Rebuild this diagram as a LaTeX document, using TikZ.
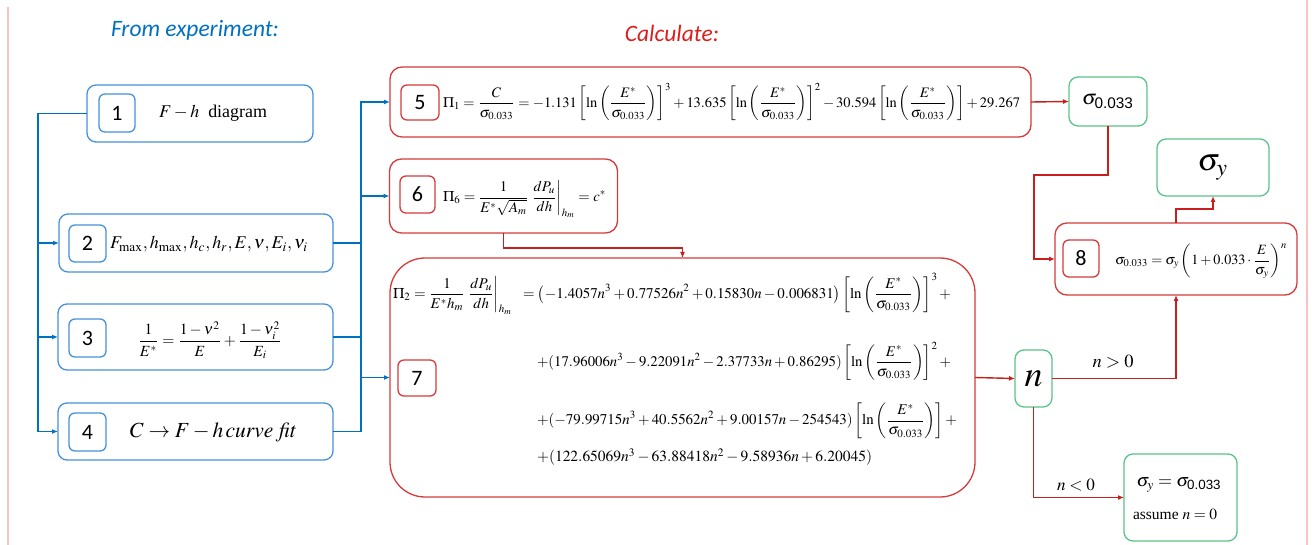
\documentclass[tikz,border=0pt]{standalone}
\usepackage{amsmath}
\usepackage{mathptmx}
\usepackage{graphicx}
\usepackage{fontspec}
\setmainfont{Liberation Serif}
\setsansfont{Liberation Sans}
\newfontfamily\calib{Carlito}
\usetikzlibrary{arrows.meta}
\definecolor{cBB}{RGB}{70,145,215}
\definecolor{cBL}{RGB}{0,112,192}
\definecolor{cRB}{RGB}{214,58,58}
\definecolor{cRL}{RGB}{200,30,30}
\definecolor{cG}{RGB}{90,195,135}
\definecolor{cPink}{RGB}{250,195,195}
\definecolor{cTB}{RGB}{0,112,192}
\definecolor{cTR}{RGB}{220,30,30}
\newcommand\fitw[2]{\resizebox{#1pt}{!}{#2}}
\newcommand\lnE{\ln\left(\dfrac{E^{*}}{\sigma_{0.033}}\right)}
\newcommand\sfz{\text{\sffamily 0.033}}
\begin{document}
\begin{tikzpicture}[x=1pt,y=-1pt,
  bbox/.style={draw=cBB,line width=1.3pt,rounded corners=9pt,inner sep=0pt,outer sep=0pt},
  bnum/.style={draw=cBB,line width=1.3pt,rounded corners=6pt,inner sep=0pt,outer sep=0pt,font=\calib\fontsize{22}{22}\selectfont},
  rbox/.style={draw=cRB,line width=1.3pt,rounded corners=12pt,inner sep=0pt,outer sep=0pt},
  rnum/.style={draw=cRB,line width=1.3pt,rounded corners=6pt,inner sep=0pt,outer sep=0pt,font=\calib\fontsize{22}{22}\selectfont},
  gbox/.style={draw=cG,line width=1.3pt,rounded corners=9pt,inner sep=0pt,outer sep=0pt},
  bl/.style={draw=cBL,line width=1.4pt},
  rl/.style={draw=cRL,line width=1.4pt},
  tip/.style={-{Latex[length=6pt,width=5pt]}},
  eq/.style={inner sep=0pt,outer sep=0pt,anchor=west},
  lab/.style={inner sep=0pt,outer sep=0pt}
]
\useasboundingbox (0,0) rectangle (1312,545);
\draw[cPink,line width=1.2pt] (8,7) -- (8,545);
\draw[cPink,line width=1.2pt] (1307,0) -- (1307,545);

% titles
\node[font=\calib\itshape\fontsize{23.5}{23.5}\selectfont,text=cTB] (tL) at (195,30) {From experiment:};
\node[font=\calib\itshape\fontsize{23.5}{23.5}\selectfont,text=cTR] (tR) at (672,33) {Calculate:};

% blue boxes
\node[bbox,minimum width=226pt,minimum height=57pt] (b1) at (200,113.5) {};
\node[bnum,minimum width=36pt,minimum height=38pt] (n1) at (117,113) {1};
\node[eq] (e1) at (159,113) {\fitw{108}{$F-h$\ \ diagram}};

\node[bbox,minimum width=274pt,minimum height=58pt] (b2) at (196,243) {};
\node[bnum,minimum width=37pt,minimum height=37pt] (n2) at (87.5,243.5) {2};
\node[eq] (e2) at (110,244) {\fitw{198}{$F_{\max},h_{\max},h_c,h_r,E,\nu,E_i,\nu_i$}};

\node[bbox,minimum width=275pt,minimum height=66pt] (b3) at (195.5,337) {};
\node[bnum,minimum width=37pt,minimum height=38pt] (n3) at (87.5,338) {3};
\node[eq] (e3) at (138,340) {\fitw{144}{$\dfrac{1}{E^{*}}=\dfrac{1-\nu^2}{E}+\dfrac{1-\nu_i^2}{E_i}$}};

\node[bbox,minimum width=275pt,minimum height=57pt] (b4) at (195.5,431.5) {};
\node[bnum,minimum width=37pt,minimum height=38pt] (n4) at (87.5,432) {4};
\node[eq] (e4) at (130,432) {\fitw{166}{$C\rightarrow F-h\,\mathit{curve\ fit}$}};

% red boxes
\node[rbox,minimum width=641pt,minimum height=70pt] (b5) at (710.5,102) {};
\node[rnum,minimum width=38pt,minimum height=35pt] (n5) at (420,102.5) {5};
\node[eq] (e5) at (443,102) {\fitw{577}{$\displaystyle \Pi_1=\frac{C}{\sigma_{0.033}}=-1.131\left[\lnE\right]^3+13.635\left[\lnE\right]^2-30.594\left[\lnE\right]+29.267$}};

\node[rbox,minimum width=228pt,minimum height=74pt] (b6) at (503.5,196) {};
\node[rnum,minimum width=35pt,minimum height=37pt] (n6) at (417.5,194.5) {6};
\node[eq] (e6) at (443,199) {\fitw{163}{$\displaystyle\Pi_6=\frac{1}{E^{*}\sqrt{A_m}}\left.\frac{dP_u}{dh}\right|_{h_m}=c^{*}$}};

\node[rbox,rounded corners=35pt,minimum width=585pt,minimum height=239pt] (b7) at (682.5,377.5) {};
\node[rnum,minimum width=38pt,minimum height=36pt] (n7) at (417,378) {7};
\node[eq] (e7a) at (393,294) {\fitw{558}{$\displaystyle\Pi_2=\frac{1}{E^{*}h_m}\left.\frac{dP_u}{dh}\right|_{h_m}\ \ =\left(-1.4057n^3+0.77526n^2+0.15830n-0.006831\right)\left[\lnE\right]^3+$}};
\node[eq] (e7b) at (537,361) {\fitw{414}{$\displaystyle+(17.96006n^3-9.22091n^2-2.37733n+0.86295)\left[\lnE\right]^2+$}};
\node[eq] (e7c) at (537,421) {\fitw{420}{$\displaystyle+(-79.99715n^3+40.5562n^2+9.00157n-254543)\left[\lnE\right]+$}};
\node[eq] (e7d) at (537,457) {\fitw{335}{$+(122.65069n^3-63.88418n^2-9.58936n+6.20045)$}};

\node[rbox,minimum width=242pt,minimum height=72pt] (b8) at (1176,259) {};
\node[rnum,minimum width=36pt,minimum height=37pt] (n8) at (1081,258.5) {8};
\node[eq] (e8) at (1115,261) {\fitw{172}{$\displaystyle\sigma_{0.033}=\sigma_y\left(1+0.033\cdot\frac{E}{\sigma_y}\right)^{n}$}};

% green boxes
\node[gbox,minimum width=78pt,minimum height=49pt] (s033) at (1108,101.5) {\fitw{52}{$\sigma_{\sfz}$}};
\node[gbox,minimum width=112pt,minimum height=57pt] (sy) at (1213,167.5) {\fitw{31}{$\sigma_{y}$}};
\node[gbox,minimum width=37pt,minimum height=57pt] (nb) at (1033.5,378.5) {\fitw{18}{$n$}};
\node[gbox,minimum width=113pt,minimum height=87pt] (fin) at (1180.5,497.5) {};
\node[lab] (f1) at (1179,485) {\fitw{85}{$\sigma_y=\sigma_{\sfz}$}};
\node[lab] (f2) at (1175,514) {\fitw{84}{assume $n=0$}};
\node[lab] (lgt) at (1113,362) {\fitw{41}{$n>0$}};
\node[lab] (llt) at (1076,485) {\fitw{38}{$n<0$}};

% blue connectors
\coordinate (lt) at (38,113.5);
\draw[bl,tip] (b1.west) -- (lt) |- (b4.west);
\draw[bl,tip] (lt |- b2.west) -- (b2.west);
\draw[bl,tip] (lt |- b3.west) -- (b3.west);
\coordinate (rb) at (361,102);
\draw[bl] (b2.east) -- (rb |- b2.east);
\draw[bl] (b3.east) -- (rb |- b3.east);
\draw[bl,tip] (b4.east) -- (rb |- b4.east) -- (rb) -- (b5.west);
\draw[bl,tip] (rb |- b6.west) -- (b6.west);
\draw[bl,tip] (rb |- b7.west) -- (b7.west);

% red connectors
\draw[rl,tip] (b6.south) -- ++(0,15) -| (b7.north);
\draw[rl,tip] (b5.east) -- (s033.west);
\coordinate (rj) at (1034,175);
\draw[rl,tip] (s033.south) |- (rj) |- (b8.west);
\draw[rl,tip] (b8.north) -- ++(0,-14) -| (sy.south);
\draw[rl,tip] (b7.east) -- (nb.west);
\draw[rl,tip] (nb.east) -| (b8.south);
\draw[rl,tip] (nb.south) |- (fin.west);
\end{tikzpicture}
\end{document}
